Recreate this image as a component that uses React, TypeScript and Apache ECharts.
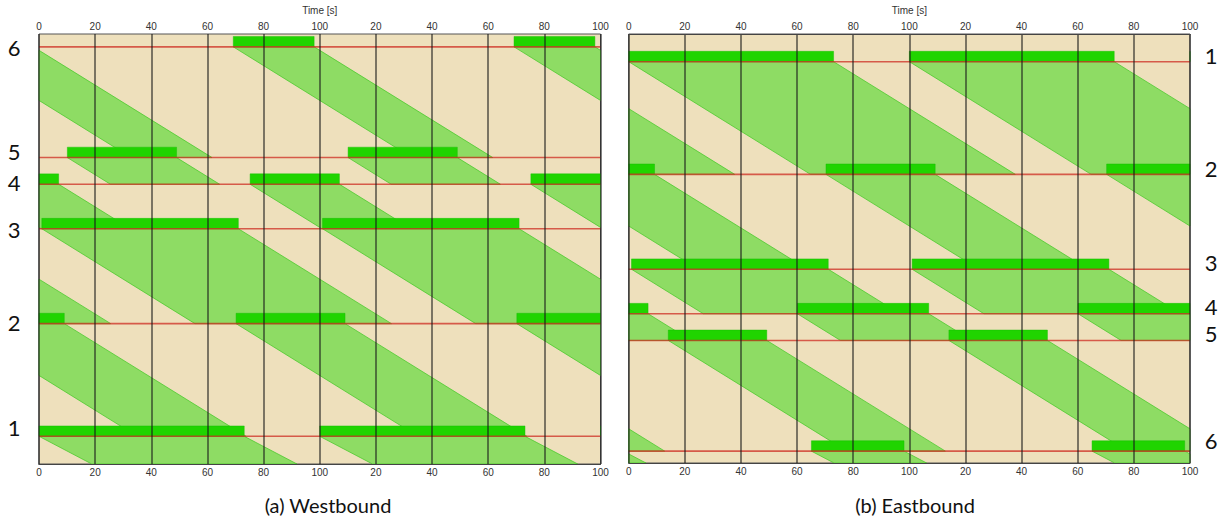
import React, { useEffect, useRef } from "react";
import * as echarts from "echarts";

// ---------- data ----------
const CYCLE = 100; // s
const timeMin = 0;
const timeMax = 200;
const timeStep = 20;
const intersectionNames = ["1", "2", "3", "4", "5", "6"];
// distance of each intersection's stop line along the corridor (arbitrary units)
const intersectionPos = [28, 142, 238, 283, 310, 422];
// westbound green windows (s within cycle), intersections 1..6
const westGreenStart = [0, 70.2, 1.0, 75.2, 10.1, 69.2];
const westGreenEnd = [73.1, 109.0, 71.0, 107.0, 49.0, 98.0];
// eastbound green windows (s within cycle), intersections 1..6
const eastGreenStart = [0, 70.3, 1.0, 60.1, 14.1, 65.1];
const eastGreenEnd = [73.0, 109.2, 71.1, 106.9, 49.2, 98.1];
// progression speeds (distance units per second)
const cruiseSpeed = 1.76;
const exitSpeed = 1.49;
const corridorEndWest = 0;
const corridorEndEast = 434;
const captions = ["(a) Westbound", "(b) Eastbound"];

// ---------- layout / style ----------
const W = 1225;
const H = 523;
const BAR_THICK = 10.5;
const BG = "#EEE0BC";
const BAND_FILL = "#8EDC64";
const BAND_STROKE = "rgba(70,200,40,0.75)";
const BAR_FILL = "#20D400";
const RED = "rgba(205,45,35,0.75)";
const leftLabelY = [427, 322, 229, 182, 151, 47];
const rightLabelY = [55, 168, 262, 306, 333, 440];

type Pt = [number, number];

function clipSide(pts: Pt[], keep: (p: Pt) => boolean, xb: number): Pt[] {
  const out: Pt[] = [];
  for (let i = 0; i < pts.length; i++) {
    const a = pts[i];
    const b = pts[(i + 1) % pts.length];
    const ia = keep(a);
    const ib = keep(b);
    if (ia) out.push(a);
    if (ia !== ib) {
      const t = (xb - a[0]) / (b[0] - a[0]);
      out.push([xb, a[1] + t * (b[1] - a[1])]);
    }
  }
  return out;
}

function clipX(poly: Pt[]): Pt[] {
  let p = clipSide(poly, (q) => q[0] >= timeMin, timeMin);
  if (p.length < 3) return [];
  p = clipSide(p, (q) => q[0] <= timeMax, timeMax);
  return p.length >= 3 ? p : [];
}

function buildPanel(
  starts: number[],
  ends: number[],
  order: number[],
  endPos: number,
  barDir: number
) {
  const bands: Pt[][] = [];
  const bars: Pt[][] = [];
  order.forEach((idx, k) => {
    const from = intersectionPos[idx];
    const nextIdx = order[k + 1];
    const to = nextIdx !== undefined ? intersectionPos[nextIdx] : endPos;
    const speed = nextIdx !== undefined ? cruiseSpeed : exitSpeed;
    const tt = Math.abs(to - from) / speed;
    for (let c = -1; c <= 2; c++) {
      const ts = starts[idx] + c * CYCLE;
      const te = ends[idx] + c * CYCLE;
      const band = clipX([
        [ts, from],
        [te, from],
        [te + tt, to],
        [ts + tt, to],
      ]);
      if (band.length) bands.push(band);
      const bar = clipX([
        [ts, from],
        [te, from],
        [te, from + barDir * BAR_THICK],
        [ts, from + barDir * BAR_THICK],
      ]);
      if (bar.length) bars.push(bar);
    }
  });
  return { bands, bars };
}

const tickFormatter = (v: number) =>
  v === 0 ? "0" : v % CYCLE === 0 ? String(CYCLE) : String(v % CYCLE);

export default function App() {
  const ref = useRef<HTMLDivElement>(null);

  useEffect(() => {
    if (!ref.current) return;
    const chart = echarts.init(ref.current, undefined, { renderer: "svg" });

    const west = buildPanel(westGreenStart, westGreenEnd, [5, 4, 3, 2, 1, 0], corridorEndWest, 1);
    const east = buildPanel(eastGreenStart, eastGreenEnd, [0, 1, 2, 3, 4, 5], corridorEndEast, -1);
    const panels = [west, east];

    const grids = [
      { left: 39, top: 29, width: 561.5, height: 435 },
      { left: 628.7, top: 29, width: 561.3, height: 434 },
    ].map((g) => ({
      ...g,
      show: true,
      backgroundColor: BG,
      borderColor: "#555",
      borderWidth: 1,
      containLabel: false,
    }));

    const labelStyle = {
      fontSize: 10,
      color: "#333",
      fontFamily: "Liberation Sans, Arial, sans-serif",
    };

    const xAxes: any[] = [];
    const yAxes: any[] = [];
    [0, 1].forEach((g) => {
      xAxes.push({
        type: "value",
        gridIndex: g,
        position: "top",
        min: timeMin,
        max: timeMax,
        interval: timeStep,
        z: 10,
        name: "Time [s]",
        nameLocation: "middle",
        nameGap: 19,
        nameTextStyle: { ...labelStyle },
        axisLine: { show: true, lineStyle: { color: "#444", width: 1 } },
        axisTick: { show: false },
        axisLabel: { ...labelStyle, margin: 3, formatter: tickFormatter },
        splitLine: { show: true, lineStyle: { color: "rgba(25,25,25,0.72)", width: 1.5 } },
      });
      xAxes.push({
        type: "value",
        gridIndex: g,
        position: "bottom",
        min: timeMin,
        max: timeMax,
        interval: timeStep,
        z: 10,
        axisLine: { show: true, lineStyle: { color: "#444", width: 1 } },
        axisTick: { show: false },
        axisLabel: { ...labelStyle, margin: 3, formatter: tickFormatter },
        splitLine: { show: false },
      });
      yAxes.push({
        type: "value",
        gridIndex: g,
        min: 0,
        max: g === 0 ? 435 : corridorEndEast,
        inverse: g === 1,
        show: false,
      });
    });

    const series: any[] = [];
    panels.forEach((p, g) => {
      series.push({
        type: "custom",
        name: "band" + g,
        xAxisIndex: g * 2,
        yAxisIndex: g,
        z: 2,
        data: p.bands.map((b) => [b[0][0], b[0][1]]),
        renderItem: (params: any, api: any) => ({
          type: "polygon",
          shape: { points: p.bands[params.dataIndex].map((pt) => api.coord(pt)) },
          style: { fill: BAND_FILL, stroke: BAND_STROKE, lineWidth: 1 },
        }),
      });
      series.push({
        type: "custom",
        name: "green" + g,
        xAxisIndex: g * 2,
        yAxisIndex: g,
        z: 3,
        data: p.bars.map((b) => [b[0][0], b[0][1]]),
        renderItem: (params: any, api: any) => ({
          type: "polygon",
          shape: { points: p.bars[params.dataIndex].map((pt) => api.coord(pt)) },
          style: { fill: BAR_FILL, stroke: "rgba(20,190,0,0.9)", lineWidth: 0.5 },
        }),
      });
      series.push({
        type: "custom",
        name: "stop" + g,
        xAxisIndex: g * 2,
        yAxisIndex: g,
        z: 4,
        data: intersectionPos.map((pos) => [timeMin, pos]),
        renderItem: (params: any, api: any) => {
          const pos = intersectionPos[params.dataIndex];
          const a = api.coord([timeMin, pos]);
          const b = api.coord([timeMax, pos]);
          return {
            type: "line",
            shape: { x1: a[0], y1: a[1], x2: b[0], y2: b[1] },
            style: { stroke: RED, lineWidth: 1.6 },
          };
        },
      });
    });

    const numFont = { fontSize: 22, fontFamily: "Lato, 'Open Sans', sans-serif", fill: "#111" };
    const graphics: any[] = [];
    intersectionNames.forEach((n, i) => {
      graphics.push({
        type: "text",
        x: 14,
        y: leftLabelY[i],
        style: { ...numFont, text: n, textAlign: "center", textVerticalAlign: "middle" },
      });
      graphics.push({
        type: "text",
        x: 1211,
        y: rightLabelY[i],
        style: { ...numFont, text: n, textAlign: "center", textVerticalAlign: "middle" },
      });
    });
    graphics.push({
      type: "text",
      x: 328,
      y: 505,
      style: { ...numFont, fontSize: 20, text: captions[0], textAlign: "center", textVerticalAlign: "middle" },
    });
    graphics.push({
      type: "text",
      x: 915,
      y: 505,
      style: { ...numFont, fontSize: 20, text: captions[1], textAlign: "center", textVerticalAlign: "middle" },
    });

    chart.setOption({
      animation: false,
      backgroundColor: "#ffffff",
      grid: grids,
      xAxis: xAxes,
      yAxis: yAxes,
      series,
      graphic: graphics,
    });

    return () => chart.dispose();
  }, []);

  return (
    <div
      ref={ref}
      style={{ position: "absolute", left: 0, top: 0, width: W, height: H }}
    />
  );
}
